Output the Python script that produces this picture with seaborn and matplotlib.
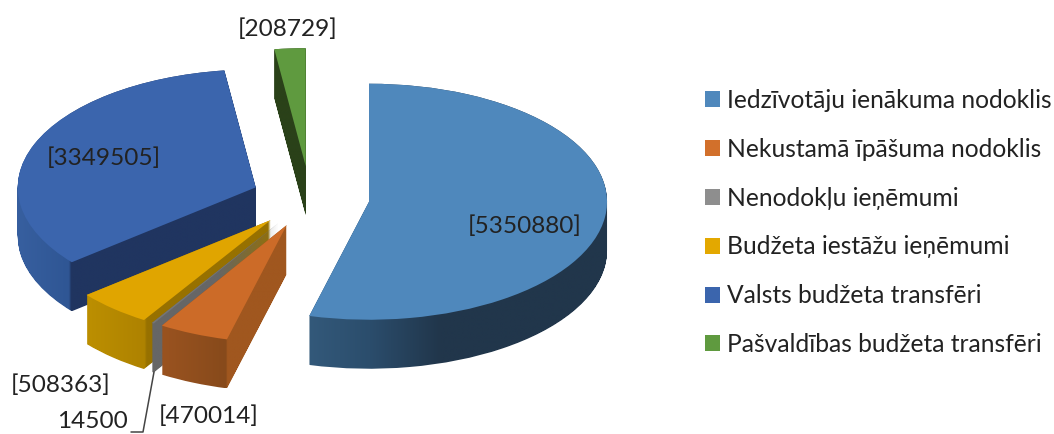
import numpy as np
import matplotlib
matplotlib.use("Agg")
import matplotlib.pyplot as plt
from matplotlib.colors import to_rgb
from matplotlib.patches import Patch
from matplotlib.path import Path
import seaborn as sns

categories = ["Iedzīvotāju ienākuma nodoklis", "Nekustamā īpāšuma nodoklis", "Nenodokļu ieņēmumi",
              "Budžeta iestāžu ieņēmumi", "Valsts budžeta transfēri", "Pašvaldības budžeta transfēri"]
values = [5350880, 470014, 14500, 508363, 3349505, 208729]
value_labels = ["[5350880]", "[470014]", "14500", "[508363]", "[3349505]", "[208729]"]
top_colors = ["#4F88BC", "#CC6B28", "#767676", "#E0A500", "#3B65AD", "#5F9A3F"]
legend_colors = ["#4F88BC", "#D2702B", "#8E8E8E", "#E3A800", "#3B65AD", "#5F9A3F"]
explode = [0.25, 0.25, 0.25, 0.25, 0.245, 0.27]

# side-face colour stops per slice: (pixel x, colour)
side_stops = [
    [(309, "#33597A"), (370, "#2B4D6C"), (440, "#21364B"), (606, "#21364B")],
    [(162, "#9A5320"), (226, "#874A1B"), (227, "#A0571F"), (288, "#A0571F")],
    [(150, "#666666"), (165, "#666666")] + [(280, "#666666")],
    [(87, "#BC8F00"), (144, "#AE8200"), (146, "#977100"), (272, "#977100")],
    [(18, "#375F9F"), (69, "#2F5694"), (71, "#203560"), (255, "#203560")],
    [(270, "#2A4119"), (306, "#2A4119")],
]
draw_order = [4, 5, 3, 2, 1, 0]

W, H = 1054, 434
CX, CY, RX, RY, DEPTH = 310.0, 198.0, 238.0, 118.0, 49.0

sns.set_theme(style="white")
plt.rcParams["font.family"] = ["Lato", "DejaVu Sans"]


def dx(p):
    return (p - CX) / RX


def dy(p):
    return (CY - p) / RY


fig = plt.figure(figsize=(W / 100, H / 100), dpi=100)
ax = fig.add_axes([0, 0, 1, 1])

pie_kw = dict(explode=explode, startangle=90, counterclock=False, radius=1.0)
palette = sns.color_palette(top_colors)
tops, _ = ax.pie(values, colors=palette, center=(0, 0), wedgeprops=dict(linewidth=0), **pie_kw)

paths = [[] for _ in values]
for off in np.linspace(0, DEPTH / RY, 50):
    layer, _ = ax.pie(values, colors=palette, center=(0, -off), wedgeprops=dict(linewidth=0), **pie_kw)
    for i, w in enumerate(layer):
        paths[i].append(w.get_path().deepcopy())
        w.remove()

for rank, i in enumerate(draw_order):
    comp = Path.make_compound_path(*paths[i])
    x0, y0 = comp.vertices.min(axis=0)
    x1, y1 = comp.vertices.max(axis=0)
    xs = np.linspace(x0, x1, 600)
    stop_x = [dx(s[0]) for s in side_stops[i]]
    stop_c = np.array([to_rgb(s[1]) for s in side_stops[i]])
    img = np.stack([np.interp(xs, stop_x, stop_c[:, c]) for c in range(3)], axis=-1)[None, :, :]
    im = ax.imshow(img, extent=(x0, x1, y0, y1), aspect="auto", origin="lower",
                   interpolation="bilinear", zorder=10 + 2 * rank)
    im.set_clip_path(comp, ax.transData)
    tops[i].set_zorder(11 + 2 * rank)

ax.set_aspect("auto")
ax.set_xlim(dx(0), dx(W))
ax.set_ylim(dy(H), dy(0))
ax.axis("off")

label_pos = [(525, 226), (209, 416), (92, 421.5), (61, 385), (104, 158), (288, 29)]
for txt, (px, py) in zip(value_labels, label_pos):
    ax.text(dx(px), dy(py), txt, ha="center", va="center", fontsize=17.6, color="#222222", zorder=40)

ax.plot([dx(131), dx(143), dx(154)], [dy(432), dy(432), dy(372)], color="#444444", lw=1.1, zorder=30)

handles = [Patch(facecolor=c, edgecolor="none") for c in legend_colors]
fig.legend(handles, categories, loc="center left", bbox_to_anchor=(705 / W, 1 - 222.5 / H),
           frameon=False, fontsize=17.7, labelcolor="#222222", handlelength=0.62, handleheight=0.62,
           handletextpad=0.28, labelspacing=1.05, borderpad=0, borderaxespad=0)

fig.savefig("out.png", dpi=100)
